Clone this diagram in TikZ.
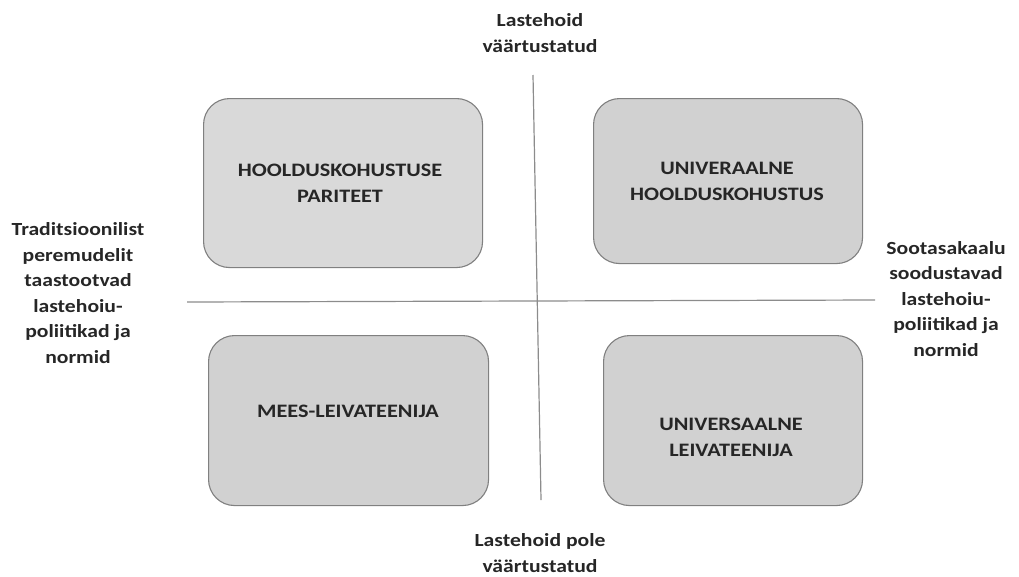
\documentclass[tikz,border=0pt]{standalone}
\usepackage{fontspec}
\setmainfont{Carlito}[FakeStretch=1.17]
\begin{document}
\begin{tikzpicture}[x=1pt,y=-1pt,
  quad/.style={draw=black!50,line width=1.1pt,rounded corners=26pt,anchor=north west},
  qtext/.style={font=\bfseries\fontsize{19}{26}\selectfont,align=center,text=black!85},
  side/.style={font=\bfseries\fontsize{18.5}{25.5}\selectfont,align=center,text=black!85},
  axis/.style={draw=black!45,line width=1.2pt}]
\useasboundingbox (0,0) rectangle (1019,576);
% boxes
\node[quad,fill=black!15,minimum width=279pt,minimum height=169pt] (tl) at (203,98) {};
\node[quad,fill=black!18,minimum width=269pt,minimum height=165pt] (tr) at (593,98) {};
\node[quad,fill=black!18,minimum width=280pt,minimum height=170pt] (bl) at (208,335) {};
\node[quad,fill=black!18,minimum width=259pt,minimum height=170pt] (br) at (603,335) {};
% box texts
\node[qtext] (tlt) at (340,183) {HOOLDUSKOHUSTUSE\\PARITEET};
\node[qtext] (trt) at (727,181) {UNIVERAALNE\\HOOLDUSKOHUSTUS};
\node[qtext] (blt) at (348,411) {MEES-LEIVATEENIJA};
\node[qtext] (brt) at (731,437) {UNIVERSAALNE\\LEIVATEENIJA};
% axes
\coordinate (vtop) at (533,75);
\coordinate (vbot) at (541,500);
\coordinate (hl) at (187,302);
\coordinate (hr) at (875,300);
\draw[axis] (vtop) -- (vbot);
\draw[axis] (hl) -- (hr);
% axis labels
\node[side] (top) at (540,33) {Lastehoid\\väärtustatud};
\node[side] (bot) at (540,553) {Lastehoid pole\\väärtustatud};
\node[side] (left) at (78,293) {Traditsioonilist\\peremudelit\\taastootvad\\lastehoiu-\\poliitikad ja\\normid};
\node[side] (right) at (946,299) {Sootasakaalu\\soodustavad\\lastehoiu-\\poliitikad ja\\normid};
\end{tikzpicture}
\end{document}
